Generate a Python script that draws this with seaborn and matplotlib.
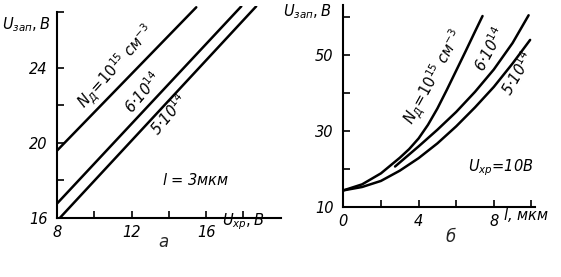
import numpy as np
import pandas as pd
import matplotlib
matplotlib.use("Agg")
import matplotlib.pyplot as plt
import seaborn as sns

# ---- data (panel а): U_зап vs U_хр, l = 3 мкм ----
u_hr_1e15 = [8.0, 15.47]
u_zap_1e15 = [19.6, 27.25]
u_hr_6e14 = [8.0, 17.89]
u_zap_6e14 = [16.77, 27.3]
u_hr_5e14 = [8.15, 18.69]
u_zap_5e14 = [16.0, 27.3]

# ---- data (panel б): U_зап vs l, U_хр = 10 В ----
l_1e15 = [0, 1, 2, 3, 3.5, 4, 4.5, 5, 5.5, 6, 6.5, 7, 7.4]
v_1e15 = [14.3, 15.9, 18.8, 22.9, 25.2, 28.0, 31.6, 35.9, 40.8, 45.9, 51.0, 56.2, 60.3]
l_6e14 = [2.75, 4, 5, 6, 7, 8, 9, 9.85]
v_6e14 = [20.6, 25.9, 30.3, 35.0, 40.3, 46.2, 53.2, 60.5]
l_5e14 = [0, 1, 2, 3, 4, 5, 6, 7, 8, 9, 9.93]
v_5e14 = [14.3, 15.2, 16.8, 19.5, 22.8, 26.7, 31.2, 36.2, 41.6, 47.8, 54.0]

xticks_a = [8, 10, 12, 14, 16, 18]
xticklabels_a = ["8", "", "12", "", "16", ""]
yticks_a = [16, 18, 20, 22, 24, 27]
yticklabels_a = ["16", "", "20", "", "24", ""]
xticks_b = [0, 2, 4, 6, 8, 10]
xticklabels_b = ["0", "", "4", "", "8", ""]
yticks_b = [10, 20, 30, 40, 50, 60]
yticklabels_b = ["10", "", "30", "", "50", ""]

sns.set_style("ticks")
plt.rcParams["font.family"] = ["DejaVu Sans"]
plt.rcParams["mathtext.fontset"] = "dejavusans"

W, H = 561, 277
fig = plt.figure(figsize=(W / 100, H / 100), dpi=100)
fig.patch.set_facecolor("white")

def fx(x):
    return x / W

def fy(y):
    return 1 - y / H

axA = fig.add_axes([0.1021, 0.2141, 0.398, 0.763])
axB = fig.add_axes([0.612, 0.2538, 0.342, 0.728])

lw = 1.8
for xs, ys in [(u_hr_1e15, u_zap_1e15), (u_hr_6e14, u_zap_6e14), (u_hr_5e14, u_zap_5e14)]:
    df = pd.DataFrame({"x": xs, "y": ys})
    sns.lineplot(data=df, x="x", y="y", color="black", lw=lw, ax=axA,
                 sort=False, estimator=None)
for xs, ys in [(l_1e15, v_1e15), (l_6e14, v_6e14), (l_5e14, v_5e14)]:
    df = pd.DataFrame({"x": xs, "y": ys})
    sns.lineplot(data=df, x="x", y="y", color="black", lw=lw, ax=axB,
                 sort=False, estimator=None)

axA.set_xlim(8, 20)
axA.set_ylim(16, 27.3)
axB.set_xlim(0, 10.2)
axB.set_ylim(10, 63.2)

for ax, xt, xtl, yt, ytl in [(axA, xticks_a, xticklabels_a, yticks_a, yticklabels_a),
                             (axB, xticks_b, xticklabels_b, yticks_b, yticklabels_b)]:
    ax.set_xticks(xt)
    ax.set_xticklabels(xtl)
    ax.set_yticks(yt)
    ax.set_yticklabels(ytl)
    ax.set_xlabel("")
    ax.set_ylabel("")
    ax.set_facecolor("none")
    for s in ["top", "right"]:
        ax.spines[s].set_visible(False)
    for s in ["left", "bottom"]:
        ax.spines[s].set_linewidth(1.5)
        ax.spines[s].set_color("black")
    ax.tick_params(direction="in", length=5, width=1.2, colors="black",
                   labelsize=10.5)
    ax.tick_params(axis="y", pad=7)
    ax.tick_params(axis="x", pad=5)
    for lab in ax.get_xticklabels() + ax.get_yticklabels():
        lab.set_fontstyle("italic")

axA.spines["left"].set_bounds(16, 27)

tk = dict(color="black", fontsize=10.5, style="italic")
# axis labels
fig.text(fx(2), fy(25), "$U_{зап},В$", ha="left", va="center", **tk)
fig.text(fx(283), fy(12), "$U_{зап},В$", ha="left", va="center", **tk)
fig.text(fx(222), fy(222), "$U_{хр},В$", ha="left", va="center", **tk)
fig.text(fx(503), fy(215), "$l$, мкм", ha="left", va="center", **tk)
# panel letters
fig.text(fx(163), fy(242), "а", ha="center", va="center", fontsize=12, style="italic")
fig.text(fx(451), fy(237), "б", ha="center", va="center", fontsize=12, style="italic")

# annotations panel а
fig.text(fx(116), fy(67), "$N_Д\\!=\\!10^{15}$ см$^{-3}$", rotation=48,
         ha="center", va="center", rotation_mode="anchor", **tk)
fig.text(fx(143), fy(93), "6·10$^{14}$", rotation=50, ha="center", va="center",
         rotation_mode="anchor", **tk)
fig.text(fx(169), fy(115), "5·10$^{14}$", rotation=50, ha="center", va="center",
         rotation_mode="anchor", **tk)
fig.text(fx(196), fy(180), "$l$ = 3мкм", ha="center", va="center", **tk)

# annotations panel б
fig.text(fx(434), fy(77), "$N_Д\\!=\\!10^{15}$ см$^{-3}$", rotation=61,
         ha="center", va="center", rotation_mode="anchor", **tk)
fig.text(fx(490), fy(49), "6·10$^{14}$", rotation=62, ha="center", va="center",
         rotation_mode="anchor", **tk)
fig.text(fx(518), fy(73), "5·10$^{14}$", rotation=60, ha="center", va="center",
         rotation_mode="anchor", **tk)
fig.text(fx(501), fy(168), "$U_{хр}$=10В", ha="center", va="center", **tk)

fig.savefig("out.png", dpi=100)
